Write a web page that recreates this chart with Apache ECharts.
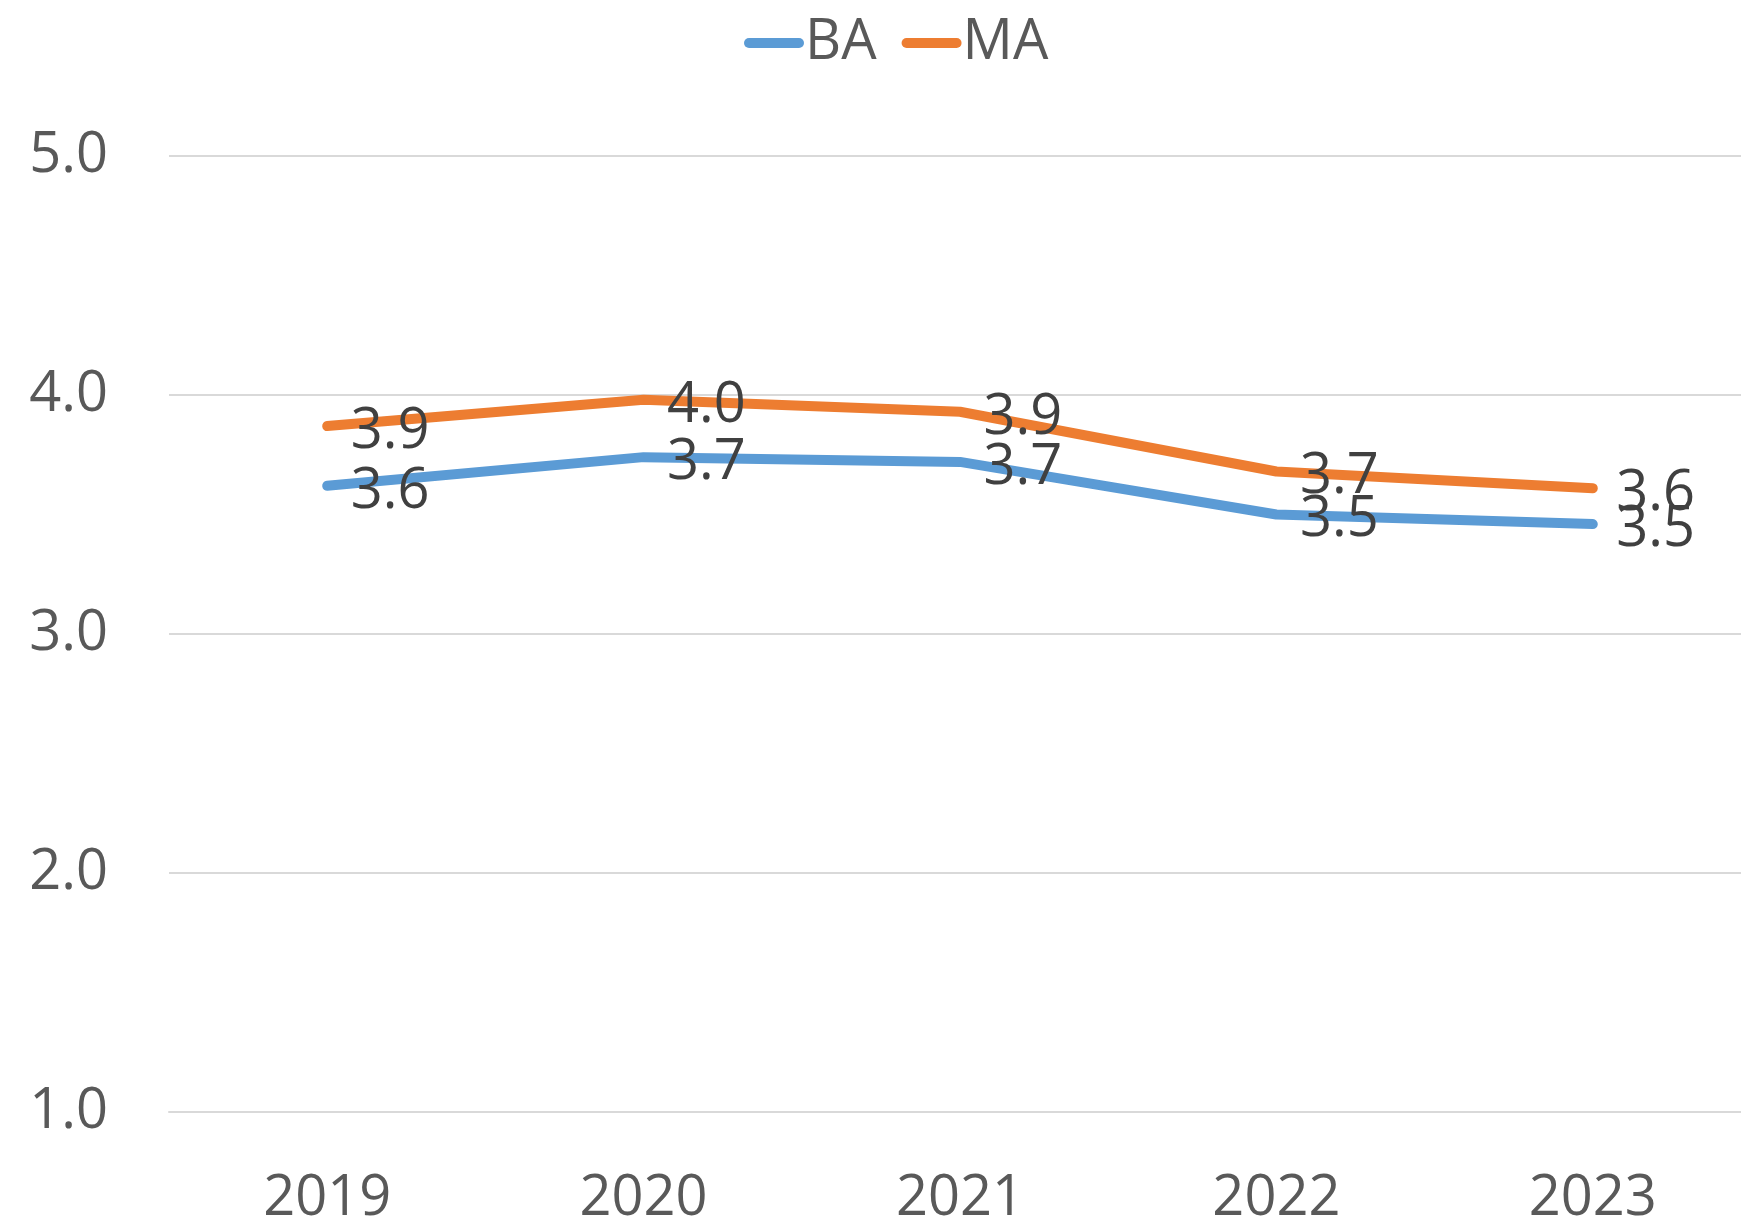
<!DOCTYPE html>
<html>
<head>
<meta charset="utf-8">
<script src="https://cdn.jsdelivr.net/npm/echarts@6/dist/echarts.min.js"></script>
<style>
html,body{margin:0;padding:0;background:#fff;}
#chart{width:1741px;height:1220px;}
</style>
</head>
<body>
<div id="chart"></div>
<script>
const categories = ['2019', '2020', '2021', '2022', '2023'];
const baValues = [3.62, 3.74, 3.72, 3.50, 3.46];
const maValues = [3.87, 3.98, 3.93, 3.68, 3.61];
const yTicks = [1, 2, 3, 4, 5];

const FONT = '"Open Sans", sans-serif';
const pill = 'path://M5,0 H55 A5,5 0 0 1 55,10 H5 A5,5 0 0 1 5,0 Z';

function makeSeries(name, data, color) {
  return {
    name: name,
    type: 'line',
    data: data,
    symbol: 'circle',
    symbolSize: 1,
    showSymbol: true,
    itemStyle: { color: color },
    lineStyle: { color: color, width: 10, cap: 'round', join: 'round' },
    label: {
      show: true,
      position: 'right',
      distance: 23,
      offset: [0, 6],
      formatter: p => p.value.toFixed(1),
      color: '#404040',
      fontFamily: FONT,
      fontSize: 56
    },
    emphasis: { disabled: true }
  };
}

const chart = echarts.init(document.getElementById('chart'), null, { renderer: 'canvas' });
chart.setOption({
  animation: false,
  backgroundColor: '#ffffff',
  legend: {
    top: 10,
    left: 739,
    itemWidth: 60,
    itemHeight: 10,
    itemGap: 25,
    icon: pill,
    textStyle: { color: '#595959', fontFamily: FONT, fontSize: 56, padding: [0, 0, 0, -4] },
    data: ['BA', 'MA']
  },
  grid: { left: 169, width: 1582, top: 156, bottom: 108, containLabel: false, outerBoundsMode: 'none' },
  xAxis: {
    type: 'category',
    data: categories,
    boundaryGap: true,
    axisLine: { show: true, lineStyle: { color: '#d9d9d9', width: 2 } },
    axisTick: { show: false },
    axisLabel: { color: '#595959', fontFamily: FONT, fontSize: 56, margin: 59 },
    splitLine: { show: false }
  },
  yAxis: {
    type: 'value',
    min: yTicks[0],
    max: yTicks[yTicks.length - 1],
    interval: 1,
    axisLine: { show: false },
    axisTick: { show: false },
    axisLabel: { color: '#595959', fontFamily: FONT, fontSize: 56, margin: 61, formatter: v => v.toFixed(1) },
    splitLine: { show: true, lineStyle: { color: '#d9d9d9', width: 2 } }
  },
  series: [
    makeSeries('BA', baValues, '#5B9BD5'),
    makeSeries('MA', maValues, '#ED7D31')
  ]
});
</script>
</body>
</html>
